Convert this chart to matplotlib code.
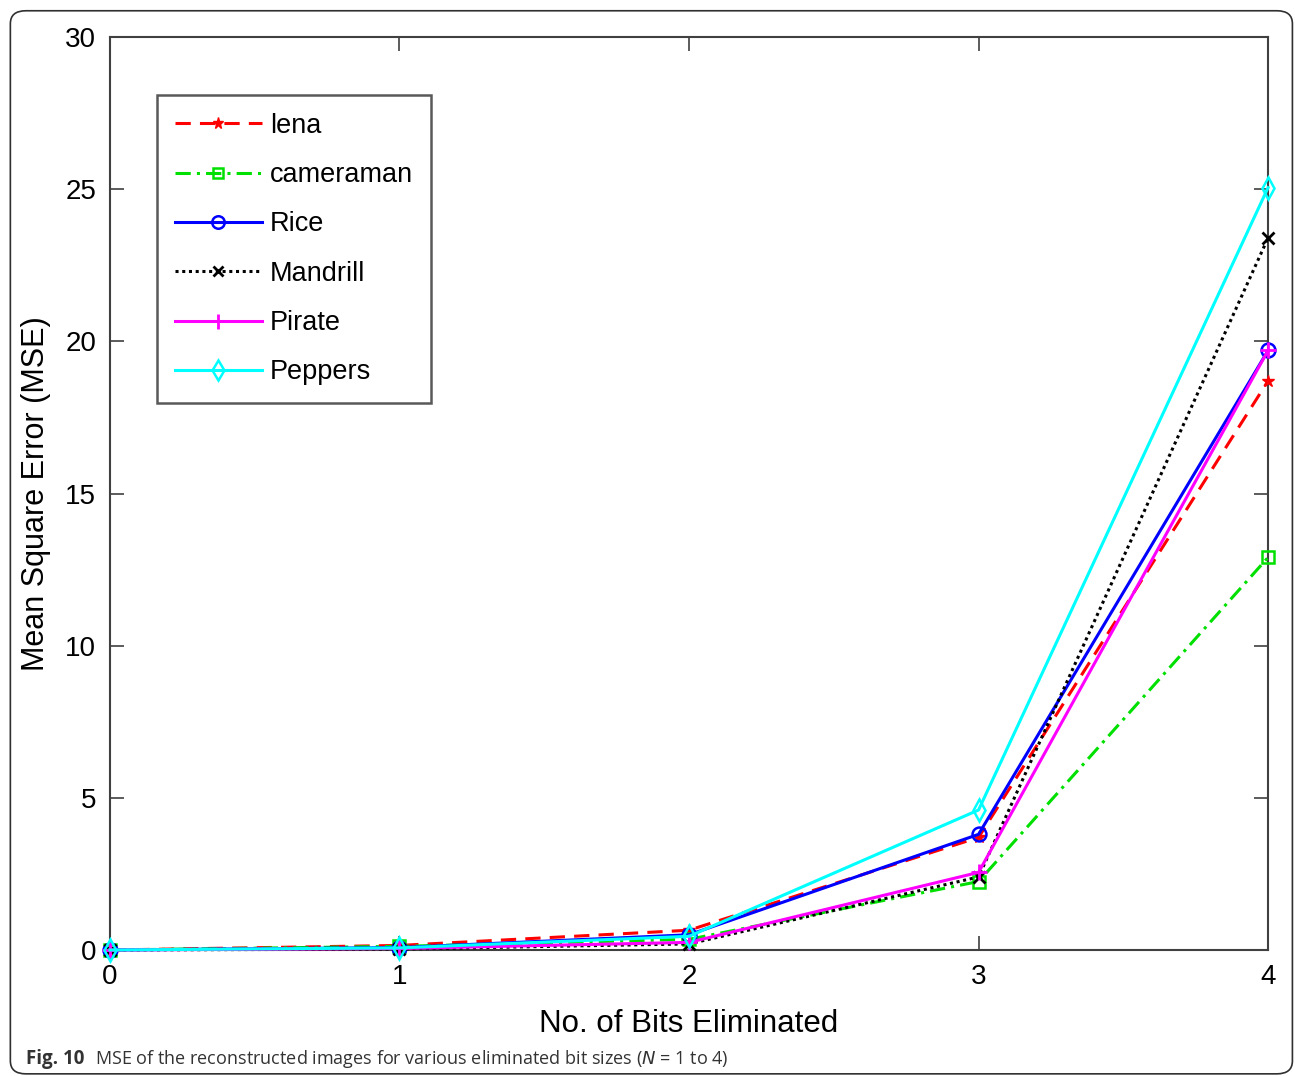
import numpy as np
import matplotlib.pyplot as plt
from matplotlib.patches import FancyBboxPatch

plt.rcParams['font.family'] = ['Liberation Sans', 'DejaVu Sans']

bits = [0, 1, 2, 3, 4]
lena = [0, 0.15, 0.65, 3.7, 18.7]
cameraman = [0, 0.12, 0.35, 2.25, 12.9]
rice = [0, 0.08, 0.5, 3.8, 19.7]
mandrill = [0, 0.03, 0.2, 2.4, 23.4]
pirate = [0, 0.05, 0.25, 2.55, 19.7]
peppers = [0, 0.07, 0.45, 4.6, 25.05]

fig = plt.figure(figsize=(12.95, 10.76), dpi=100)
ax = fig.add_axes([0.0849, 0.1171, 0.8943, 0.8485])

lw = 2.2
common = dict(lw=lw, clip_on=False, zorder=3)
ax.plot(bits, lena, color='red', ls=(0, (5, 3)), marker='*', ms=9, label='lena', **common)
ax.plot(bits, cameraman, color='#00e000', ls=(0, (5, 2, 1, 2)), marker='s', ms=8,
        mfc='none', mew=1.8, label='cameraman', **common)
ax.plot(bits, rice, color='blue', ls='-', marker='o', ms=10, mfc='none', mew=1.8, label='Rice', **common)
ax.plot(bits, mandrill, color='black', ls=(0, (1, 1.2)), marker='x', ms=8, mew=2, label='Mandrill', **common)
ax.plot(bits, pirate, color='magenta', ls='-', marker='+', ms=12, mew=2, label='Pirate', **common)
ax.plot(bits, peppers, color='cyan', ls='-', marker='d', ms=11, mfc='none', mew=1.8, label='Peppers', **common)

ax.set_xlim(0, 4)
ax.set_ylim(0, 30)
ax.set_xticks([0, 1, 2, 3, 4])
ax.set_yticks(np.arange(0, 31, 5))
ax.tick_params(direction='in', length=10, width=1.2, color='#404040', labelsize=20,
               top=True, right=True, pad=10)
for s in ax.spines.values():
    s.set_color('#404040')
    s.set_linewidth(1.5)

ax.set_xlabel('No. of Bits Eliminated', fontsize=22.5, labelpad=14)
ax.set_ylabel('Mean Square Error (MSE)', fontsize=22, labelpad=10)

leg = ax.legend(loc='upper left', bbox_to_anchor=(0.0406, 0.9365), borderaxespad=0,
                fontsize=19.5, frameon=True, fancybox=False, edgecolor='#303030',
                handlelength=3.2, handletextpad=0.3, labelspacing=0.86, borderpad=0.66,
                markerscale=0.9)
leg.get_frame().set_linewidth(1.8)

frame = FancyBboxPatch((0.008, 0.002), 0.99, 0.988, boxstyle='round,pad=0,rounding_size=0.012',
                       transform=fig.transFigure, fill=False, edgecolor='#303030', lw=1.2)
fig.patches.append(frame)

fig.text(0.02, 0.011, 'Fig. 10', fontsize=13.5, fontweight='bold', family=['Open Sans', 'DejaVu Sans'],
         color='#333333')
fig.text(0.073, 0.011, 'MSE of the reconstructed images for various eliminated bit sizes ($\\it{N}$ = 1 to 4)',
         fontsize=13, family=['Open Sans', 'DejaVu Sans'], color='#333333')

fig.savefig('out.png', dpi=100)
